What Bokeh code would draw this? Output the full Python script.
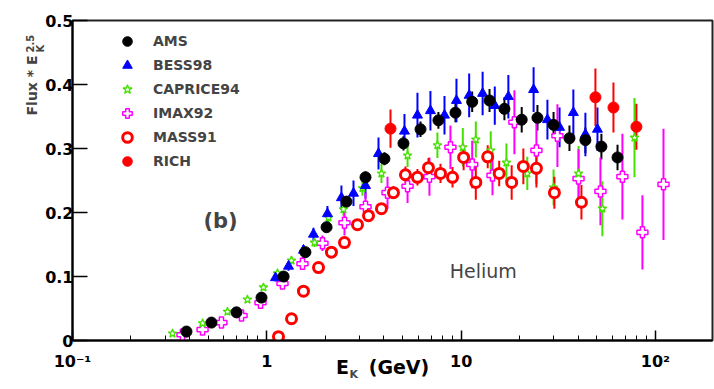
import numpy as np
from math import pi
from bokeh.plotting import figure
from bokeh.models import Range1d, FixedTicker, Label, Legend, LegendItem
from bokeh.embed import file_html
from bokeh.resources import INLINE

# ---------------- data (E_K in GeV, Flux * E_K^2.5) ----------------
ams_e = [0.386, 0.519, 0.698, 0.939, 1.22, 1.58, 2.03, 2.57, 3.22, 4.03, 5.05, 6.18,
         7.64, 9.35, 11.4, 14.0, 16.7, 20.5, 24.7, 29.9, 36.1, 43.6, 52.7, 63.8]
ams_f = [0.014, 0.028, 0.044, 0.067, 0.100, 0.138, 0.177, 0.217, 0.255, 0.284, 0.308, 0.330,
         0.344, 0.356, 0.373, 0.375, 0.362, 0.345, 0.348, 0.337, 0.316, 0.313, 0.303, 0.286]
ams_err = [0.003, 0.003, 0.003, 0.004, 0.005, 0.006, 0.007, 0.008, 0.009, 0.010, 0.011, 0.012,
           0.013, 0.015, 0.016, 0.018, 0.018, 0.020, 0.020, 0.020, 0.020, 0.020, 0.020, 0.020]

bess_e = [1.108, 1.293, 1.544, 1.738, 2.051, 2.421, 2.793, 3.22, 3.756, 5.11, 5.96, 6.95,
          8.21, 9.46, 11.0, 12.9, 14.9, 17.5, 23.6, 27.8, 32.1, 37.8, 43.6, 50.3]
bess_f = [0.098, 0.116, 0.141, 0.166, 0.198, 0.223, 0.230, 0.242, 0.292, 0.327, 0.352, 0.359,
          0.352, 0.375, 0.383, 0.386, 0.367, 0.381, 0.392, 0.345, 0.333, 0.356, 0.322, 0.330]
bess_err = [0.006, 0.007, 0.008, 0.010, 0.012, 0.019, 0.020, 0.020, 0.025, 0.027, 0.035, 0.031,
            0.030, 0.034, 0.034, 0.034, 0.030, 0.034, 0.035, 0.031, 0.031, 0.036, 0.034, 0.034]

caprice_e = [0.327, 0.467, 0.627, 0.795, 0.961, 1.135, 1.340, 1.544, 1.759, 2.077, 2.481, 3.107,
             3.89, 5.30, 7.55, 10.2, 11.9, 14.2, 17.1, 21.9, 29.9, 40.2, 53.3, 78.0]
caprice_f = [0.011, 0.027, 0.045, 0.064, 0.083, 0.105, 0.125, 0.139, 0.153, 0.192, 0.205, 0.238,
             0.261, 0.289, 0.305, 0.302, 0.314, 0.297, 0.278, 0.261, 0.239, 0.261, 0.206, 0.317]
caprice_err = [0.003, 0.003, 0.004, 0.004, 0.005, 0.005, 0.006, 0.006, 0.007, 0.008, 0.010, 0.012,
               0.015, 0.018, 0.020, 0.030, 0.028, 0.030, 0.030, 0.026, 0.028, 0.043, 0.043, 0.062]

imax_e = [0.368, 0.467, 0.584, 0.741, 0.928, 1.204, 1.526, 1.934, 2.51, 3.22, 4.18, 5.30,
          6.87, 8.81, 11.4, 14.5, 18.8, 24.4, 31.3, 40.2, 52.1, 67.6, 85.7, 110.0]
imax_f = [0.009, 0.017, 0.028, 0.039, 0.059, 0.089, 0.120, 0.152, 0.184, 0.209, 0.231, 0.241,
          0.256, 0.302, 0.275, 0.258, 0.341, 0.297, 0.320, 0.253, 0.233, 0.256, 0.169, 0.244]
imax_err = [0.003, 0.004, 0.005, 0.005, 0.006, 0.008, 0.010, 0.012, 0.020, 0.022, 0.025, 0.026,
            0.030, 0.034, 0.037, 0.031, 0.050, 0.052, 0.049, 0.046, 0.053, 0.067, 0.058, 0.087]

mass_e = [1.148, 1.340, 1.544, 1.845, 2.151, 2.51, 2.928, 3.337, 3.89, 4.486, 5.17, 5.96,
          6.79, 7.83, 9.03, 10.3, 11.9, 13.7, 15.7, 18.2, 20.9, 24.4, 30.2, 41.6]
mass_f = [0.006, 0.034, 0.077, 0.114, 0.138, 0.153, 0.181, 0.195, 0.206, 0.231, 0.259, 0.255,
          0.270, 0.261, 0.255, 0.286, 0.247, 0.287, 0.261, 0.247, 0.272, 0.269, 0.231, 0.216]
mass_err = [0.003, 0.004, 0.005, 0.006, 0.006, 0.007, 0.008, 0.008, 0.009, 0.010, 0.013, 0.013,
            0.015, 0.015, 0.016, 0.020, 0.027, 0.018, 0.020, 0.027, 0.028, 0.030, 0.025, 0.027]

rich_e = [4.33, 49.1, 60.8, 79.8]
rich_f = [0.331, 0.380, 0.364, 0.334]
rich_err = [0.030, 0.045, 0.039, 0.036]

series_names = ["AMS", "BESS98", "CAPRICE94", "IMAX92", "MASS91", "RICH"]

x_ticks = [0.1, 1, 10, 100]
x_tick_labels = ["10\u207b\u00b9", "1", "10", "10\u00b2"]
x_minor_ticks = [m * d for d in (0.1, 1, 10) for m in range(2, 10)]
y_ticks = [0, 0.1, 0.2, 0.3, 0.4, 0.5]
y_tick_labels = ["0", "0.1", "0.2", "0.3", "0.4", "0.5"]

FONT = "DejaVu Sans"
NB = "\u00a0"

# ---------------- figure ----------------
p = figure(width=714, height=389, x_axis_type="log",
           x_range=Range1d(0.1, 196.6), y_range=Range1d(0, 0.5),
           output_backend="svg", toolbar_location=None,
           min_border_left=72, min_border_right=2, min_border_top=20, min_border_bottom=49)
p.xgrid.visible = False
p.ygrid.visible = False
p.outline_line_color = "#222222"
p.outline_line_width = 2
p.background_fill_color = "white"
p.border_fill_color = "white"

xa = p.xaxis[0]
xa.ticker = FixedTicker(ticks=x_ticks, minor_ticks=x_minor_ticks)
xa.major_label_overrides = dict(zip(x_ticks, x_tick_labels))
xa.major_tick_in = 10
xa.major_tick_out = 0
xa.minor_tick_in = 5
xa.minor_tick_out = 0
xa.axis_line_width = 2
xa.major_tick_line_width = 1.5
xa.minor_tick_line_width = 1
xa.major_label_text_font = FONT
xa.major_label_text_font_style = "bold"
xa.major_label_text_font_size = "16px"
xa.major_label_text_color = "black"
xa.major_label_standoff = 11
# x axis title E_K (GeV): main part as axis label, subscript K as a separate label
xa.axis_label = "E" + NB * 3 + "(GeV)" + NB * 3
xa.axis_label_text_font = FONT
xa.axis_label_text_font_style = "bold"
xa.axis_label_text_font_size = "19px"
xa.axis_label_text_color = "black"
xa.axis_label_standoff = -18

ya = p.yaxis[0]
ya.ticker = FixedTicker(ticks=y_ticks, minor_ticks=[])
ya.major_label_overrides = dict(zip(y_ticks, y_tick_labels))
ya.major_tick_in = 15
ya.major_tick_out = 0
ya.minor_tick_in = 0
ya.minor_tick_out = 0
ya.axis_line_width = 2
ya.major_tick_line_width = 1.5
ya.major_label_text_font = FONT
ya.major_label_text_font_style = "bold"
ya.major_label_text_font_size = "16px"
ya.major_label_text_color = "black"
ya.major_label_standoff = -1

# ---------------- series ----------------
styles = [
    (ams_e, ams_f, ams_err, "black", dict(marker="circle", size=11, fill_color="black", line_color="black")),
    (bess_e, bess_f, bess_err, "#0000ff", dict(marker="triangle", size=10, fill_color="#0000ff", line_color="#0000ff")),
    (caprice_e, caprice_f, caprice_err, "#44e000", dict(marker="star", size=9, fill_color="white", line_color="#44e000", line_width=1.3)),
    (imax_e, imax_f, imax_err, "#ff00ff", dict(marker="plus", size=11, fill_color="white", line_color="#ff00ff", line_width=1.5)),
    (mass_e, mass_f, mass_err, "#ff0000", dict(marker="circle", size=10, fill_color="white", line_color="#ff0000", line_width=3)),
    (rich_e, rich_f, rich_err, "#ff0000", dict(marker="circle", size=11, fill_color="#ff0000", line_color="#ff0000")),
]

# error bars first
for e, f, err, col, _ in styles:
    e = np.asarray(e); f = np.asarray(f); err = np.asarray(err)
    p.segment(x0=e, y0=f - err, x1=e, y1=f + err, line_color=col, line_width=2)

order = [3, 2, 1, 4, 0, 5]
renderers = {}
for i in order:
    e, f, err, col, kw = styles[i]
    renderers[i] = p.scatter(x=e, y=f, **kw)

legend = Legend(items=[LegendItem(label=series_names[i], renderers=[renderers[i]]) for i in range(6)],
                location=(43, 167), orientation="vertical",
                padding=0, margin=0, spacing=0,
                glyph_height=24, glyph_width=24, label_height=24, label_standoff=14,
                label_text_font=FONT, label_text_font_style="bold", label_text_font_size="14px",
                border_line_alpha=0, background_fill_alpha=0)
p.add_layout(legend)

# ---------------- texts ----------------
p.add_layout(Label(x=0.578, y=0.1875, text="(b)", text_align="center", text_baseline="middle",
                   text_font=FONT, text_font_style="bold", text_font_size="21px"))
p.add_layout(Label(x=13.0, y=0.109, text="Helium", text_align="center", text_baseline="middle",
                   text_font=FONT, text_font_size="19px"))

# y axis title: Flux * E_K^2.5 (rotated), in the left panel so it is not clipped
p.add_layout(Label(x=0.0620, y=0.3516, text="Flux * E", angle=pi / 2, text_align="left",
                   text_baseline="alphabetic", text_font=FONT, text_font_style="bold", text_font_size="14px"), "left")
p.add_layout(Label(x=0.0682, y=0.4500, text="K", angle=pi / 2, text_align="left",
                   text_baseline="alphabetic", text_font=FONT, text_font_style="bold", text_font_size="10px"), "left")
p.add_layout(Label(x=0.0606, y=0.4500, text="2.5", angle=pi / 2, text_align="left",
                   text_baseline="alphabetic", text_font=FONT, text_font_style="bold", text_font_size="10px"), "left")

# subscript K of the x axis title (kept in the top border panel, drawn at the bottom)
p.add_layout(Label(x=2.664, y=-0.0535, text="K", text_align="left", text_baseline="alphabetic",
                   text_font=FONT, text_font_style="bold", text_font_size="11px"), "above")

open("out.html", "w").write(file_html(p, INLINE))
